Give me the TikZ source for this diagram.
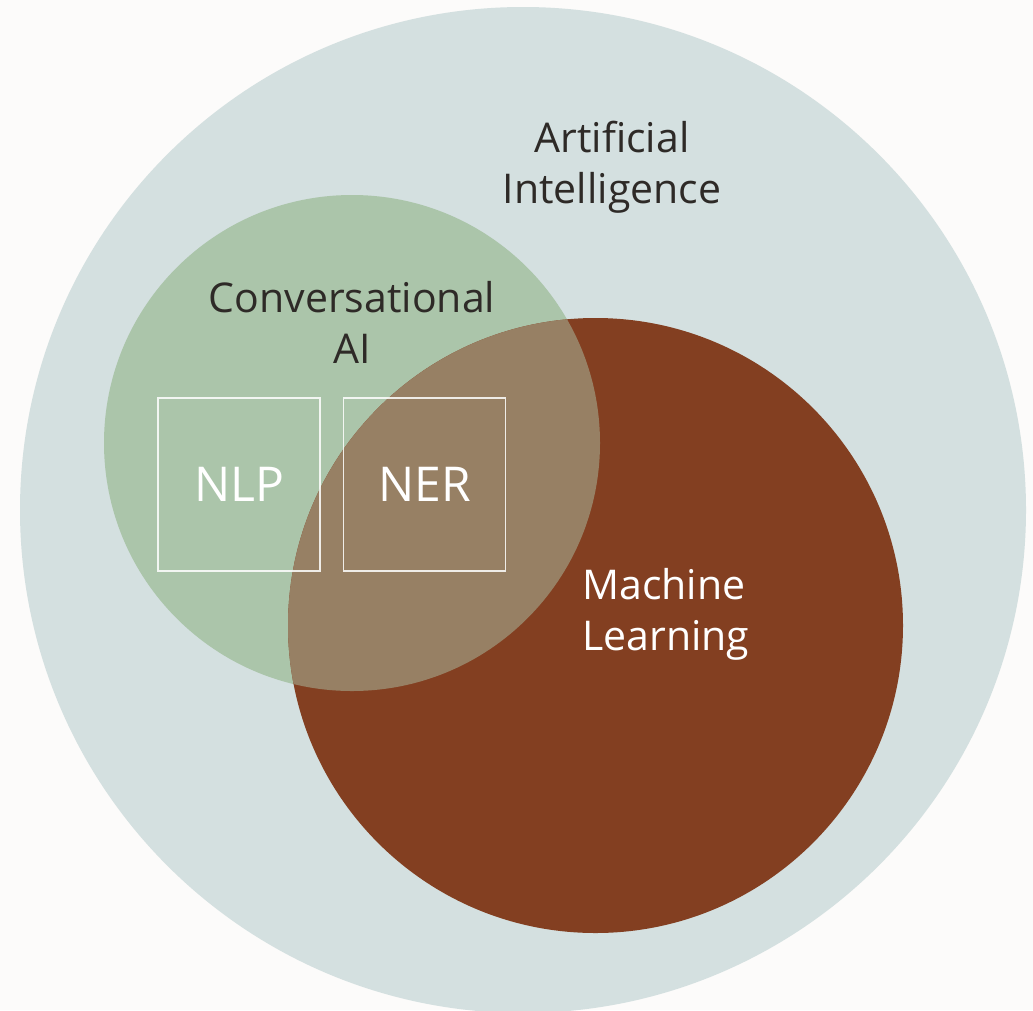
\documentclass[tikz,border=0pt]{standalone}
\usepackage{fontspec}
\setmainfont{Open Sans}
\definecolor{pagebg}{HTML}{FCFBFA}
\definecolor{aifill}{HTML}{D4E0E0}
\definecolor{cafill}{HTML}{ABC5AA}
\definecolor{mlfill}{HTML}{833F21}
\definecolor{mixfill}{HTML}{978064}
\definecolor{darktext}{HTML}{2E2A27}
\begin{document}
\begin{tikzpicture}[x=1pt,y=-1pt,
  label text/.style={inner sep=0pt, align=center, font=\fontsize{41}{51}\selectfont},
  box/.style={draw=white, draw opacity=0.85, line width=1.3pt, minimum width=162pt, minimum height=173pt, inner sep=0pt},
  box text/.style={text=white, font=\fontsize{48}{58}\selectfont}]
  \useasboundingbox (0,0) rectangle (1033,1010);
  \fill[pagebg] (0,0) rectangle (1033,1010);
  % the three sets
  \coordinate (aic) at (523,510);
  \coordinate (cac) at (352,443);
  \coordinate (mlc) at (595.5,625.5);
  \fill[aifill] (aic) circle[radius=503pt];
  \fill[cafill] (cac) circle[radius=248pt];
  \fill[mlfill] (mlc) circle[radius=307.5pt];
  % overlap of conversational AI and machine learning
  \begin{scope}
    \clip (cac) circle[radius=248pt];
    \fill[mixfill] (mlc) circle[radius=307.5pt];
  \end{scope}
  % labels (base anchor sits on the last line)
  \node[label text, text=darktext, anchor=base] (ailabel) at (612,203) {Artificial\\Intelligence};
  \node[label text, text=darktext, anchor=base] (calabel) at (352,363) {Conversational\\AI};
  \node[label text, text=white, align=left, anchor=base west] (mllabel) at (582,650) {Machine\\Learning};
  % inner boxes
  \node[box, box text] (nlp) at (239,484.5) {NLP};
  \node[box, box text] (ner) at (424.5,484.5) {NER};
\end{tikzpicture}
\end{document}
